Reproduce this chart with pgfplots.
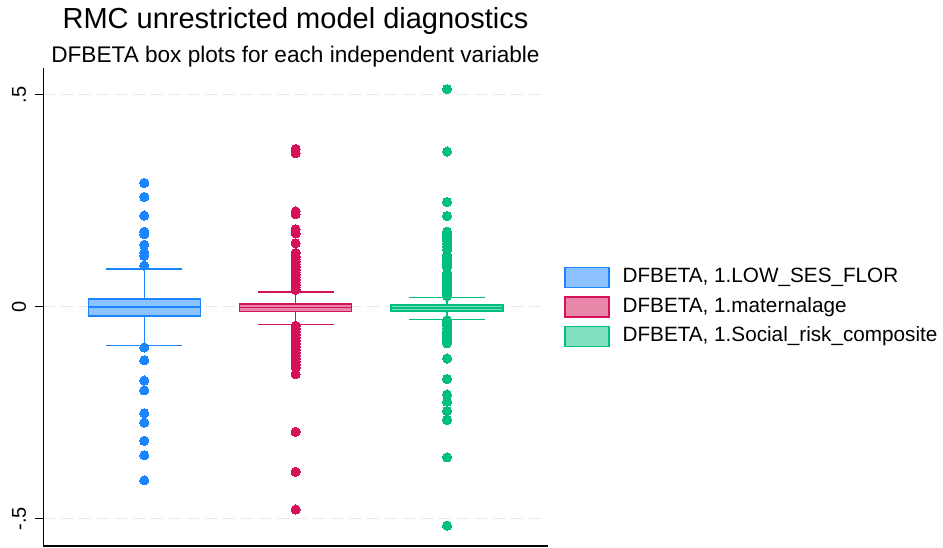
\documentclass[border=0pt]{standalone}
\usepackage{pgfplots}
\pgfplotsset{compat=1.18}
\usepackage{fontspec}
\setmainfont{Liberation Sans}
\definecolor{sblue}{HTML}{1A85FF}
\definecolor{sred}{HTML}{D41159}
\definecolor{sgreen}{HTML}{00BF7F}
\definecolor{gridc}{HTML}{E8E8E8}

\begin{document}
\begin{tikzpicture}
\useasboundingbox (0pt,0pt) rectangle (943pt,547pt);
\begin{axis}[
  at={(43.3pt,1pt)}, anchor=south west,
  scale only axis, width=504.4pt, height=478pt,
  xmin=0.333, xmax=3.665, ymin=-0.564, ymax=0.563,
  axis x line*=bottom, axis y line*=left,
  x axis line style={-, line width=1.2pt},
  y axis line style={-, line width=1.2pt},
  xtick=\empty,
  ytick={-0.5,0,0.5}, yticklabels={-.5,0,.5},
  yticklabel style={rotate=90, anchor=south, inner sep=0pt, font=\fontsize{20}{20}\selectfont},
  yticklabel shift=9pt,
  tick align=outside, major tick length=8pt,
  major tick style={line width=1.2pt, black},
  ymajorgrids,
  major grid style={draw=gridc, line width=1.2pt, dash pattern=on 11.7pt off 6.3pt},
  legend style={at={(1,0.5)}, anchor=west, xshift=16.5pt, draw=none, fill=none,
    font=\fontsize{20.7}{20.7}\selectfont, row sep=8pt, inner sep=0pt,
    nodes={inner sep=0pt, text height=15pt, text depth=5pt},
    /tikz/every odd column/.append style={column sep=12.7pt}},
  legend cell align=left,
  every axis plot/.append style={forget plot},
]
% ---------- blue: LOW_SES_FLOR ----------
\addplot[sblue, line width=1.2pt] coordinates {(1,0.018) (1,0.089)};
\addplot[sblue, line width=1.2pt] coordinates {(0.75,0.089) (1.25,0.089)};
\addplot[sblue, line width=1.2pt] coordinates {(1,-0.022) (1,-0.091)};
\addplot[sblue, line width=1.2pt] coordinates {(0.75,-0.091) (1.25,-0.091)};
\addplot[draw=sblue, fill=sblue!50!white, line width=1.5pt] coordinates {(0.63,-0.022) (1.37,-0.022) (1.37,0.018) (0.63,0.018)} --cycle;
\addplot[sblue, line width=1.5pt] coordinates {(0.63,0) (1.37,0)};
\addplot[only marks, mark=*, mark size=4.6pt, mark options={fill=sblue, draw=sblue, line width=0pt}] coordinates {
 (1,0.292) (1,0.259) (1,0.215) (1,0.177) (1,0.171) (1,0.146) (1,0.127) (1,0.120) (1,0.097)
 (1,-0.096) (1,-0.126) (1,-0.174) (1,-0.197) (1,-0.251) (1,-0.273) (1,-0.316) (1,-0.350) (1,-0.409)};
% ---------- red: maternalage ----------
\addplot[sred, line width=1.2pt] coordinates {(2,0.007) (2,0.035)};
\addplot[sred, line width=1.2pt] coordinates {(1.75,0.035) (2.25,0.035)};
\addplot[sred, line width=1.2pt] coordinates {(2,-0.011) (2,-0.041)};
\addplot[sred, line width=1.2pt] coordinates {(1.75,-0.041) (2.25,-0.041)};
\addplot[draw=sred, fill=sred!50!white, line width=1.5pt] coordinates {(1.63,-0.011) (2.37,-0.011) (2.37,0.007) (1.63,0.007)} --cycle;
\addplot[sred, line width=1.5pt] coordinates {(1.63,-0.002) (2.37,-0.002)};
\addplot[only marks, mark=*, mark size=4.6pt, mark options={fill=sred, draw=sred, line width=0pt}] coordinates {
 (2,0.372) (2,0.362) (2,0.225) (2,0.218) (2,0.183) (2,0.173) (2,0.150) (2,0.127)
 (2,0.118) (2,0.112) (2,0.106) (2,0.100) (2,0.094) (2,0.088) (2,0.082) (2,0.076) (2,0.070)
 (2,0.064) (2,0.058) (2,0.052) (2,0.046) (2,0.040)
 (2,-0.045) (2,-0.052) (2,-0.059) (2,-0.066) (2,-0.073) (2,-0.080) (2,-0.087) (2,-0.094)
 (2,-0.101) (2,-0.108) (2,-0.115) (2,-0.122) (2,-0.129) (2,-0.136) (2,-0.143)
 (2,-0.159) (2,-0.295) (2,-0.389) (2,-0.478)};
% ---------- green: Social_risk_composite ----------
\addplot[sgreen, line width=1.2pt] coordinates {(3,0.004) (3,0.021)};
\addplot[sgreen, line width=1.2pt] coordinates {(2.75,0.021) (3.25,0.021)};
\addplot[sgreen, line width=1.2pt] coordinates {(3,-0.010) (3,-0.030)};
\addplot[sgreen, line width=1.2pt] coordinates {(2.75,-0.030) (3.25,-0.030)};
\addplot[draw=sgreen, fill=sgreen!50!white, line width=1.5pt] coordinates {(2.63,-0.010) (3.37,-0.010) (3.37,0.004) (2.63,0.004)} --cycle;
\addplot[sgreen, line width=1.5pt] coordinates {(2.63,-0.003) (3.37,-0.003)};
\addplot[only marks, mark=*, mark size=4.6pt, mark options={fill=sgreen, draw=sgreen, line width=0pt}] coordinates {
 (3,0.513) (3,0.366) (3,0.247) (3,0.214)
 (3,0.177) (3,0.170) (3,0.163) (3,0.156) (3,0.149) (3,0.142) (3,0.135)
 (3,0.122) (3,0.115) (3,0.108) (3,0.101) (3,0.094)
 (3,0.080) (3,0.073) (3,0.066) (3,0.059) (3,0.052) (3,0.045) (3,0.038) (3,0.031) (3,0.025)
 (3,-0.032) (3,-0.038) (3,-0.044) (3,-0.051) (3,-0.058) (3,-0.065) (3,-0.072) (3,-0.079) (3,-0.086)
 (3,-0.122) (3,-0.170) (3,-0.207) (3,-0.224) (3,-0.246) (3,-0.267) (3,-0.355) (3,-0.516)};
% ---------- legend ----------
\addlegendimage{legend image code/.code={\draw[sblue, fill=sblue!50!white, line width=1.5pt] (0pt,-10pt) rectangle (44pt,10pt);}}
\addlegendentry{DFBETA, 1.LOW\_SES\_FLOR}
\addlegendimage{legend image code/.code={\draw[sred, fill=sred!50!white, line width=1.5pt] (0pt,-10pt) rectangle (44pt,10pt);}}
\addlegendentry{DFBETA, 1.maternalage}
\addlegendimage{legend image code/.code={\draw[sgreen, fill=sgreen!50!white, line width=1.5pt] (0pt,-10pt) rectangle (44pt,10pt);}}
\addlegendentry{DFBETA, 1.Social\_risk\_composite}
\end{axis}
\node[anchor=base, font=\fontsize{29}{29}\selectfont] at (295.5pt,518pt) {RMC unrestricted model diagnostics};
\node[anchor=base, font=\fontsize{22.6}{22.6}\selectfont] at (295.5pt,484pt) {DFBETA box plots for each independent variable};
\end{tikzpicture}
\end{document}
